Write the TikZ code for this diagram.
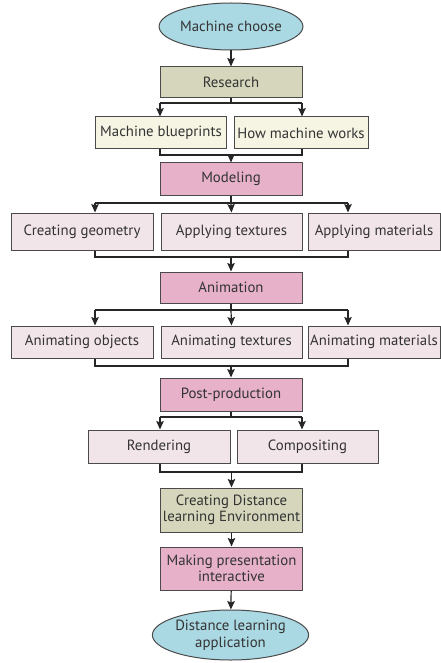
\documentclass[tikz,border=0pt]{standalone}
\usepackage{fontspec}
\setmainfont{PT Sans}
\usetikzlibrary{arrows.meta,shapes.geometric,calc}
\definecolor{ellfill}{HTML}{AAD9E3}
\definecolor{tanfill}{HTML}{D6D6BC}
\definecolor{pinkfill}{HTML}{E6B1C9}
\definecolor{lpinkfill}{HTML}{F2E5EA}
\definecolor{creamfill}{HTML}{F6F4E3}
\definecolor{edge}{HTML}{4A4A4A}
\definecolor{txt}{HTML}{333333}
\tikzset{
  base/.style={draw=edge, line width=1pt, text=txt, font=\fontsize{14.8}{16.5}\selectfont, inner sep=0pt, align=center},
  ell/.style={base, ellipse, fill=ellfill},
  tanbox/.style={base, rectangle, fill=tanfill},
  pinkbox/.style={base, rectangle, fill=pinkfill},
  lpinkbox/.style={base, rectangle, fill=lpinkfill},
  creambox/.style={base, rectangle, fill=creamfill},
  conn/.style={draw=black!85, line width=1.2pt},
  arr/.style={conn, -{Stealth[length=8.5pt,width=7.5pt,inset=1.5pt]}},
}
\begin{document}
\begin{tikzpicture}[x=1pt,y=-1pt]
\useasboundingbox (0,0) rectangle (441,663);
% nodes
\node[ell, minimum width=142, minimum height=47] (top) at (231,26.5) {Machine choose};
\node[tanbox, minimum width=142, minimum height=31] (res) at (231,82.5) {Research};
\node[creambox, minimum width=131, minimum height=32] (mb) at (161,133) {Machine blueprints};
\node[creambox, minimum width=134, minimum height=32] (hw) at (301,133) {How machine works};
\node[pinkbox, minimum width=142, minimum height=32] (mod) at (231,179) {Modeling};
\node[lpinkbox, minimum width=142, minimum height=37] (cg) at (82,231.5) {Creating geometry};
\node[lpinkbox, minimum width=141, minimum height=37] (apt) at (231.5,231.5) {Applying textures};
\node[lpinkbox, minimum width=132, minimum height=37] (apm) at (374,231.5) {Applying materials};
\node[pinkbox, minimum width=142, minimum height=31] (ani) at (231,287.5) {Animation};
\node[lpinkbox, minimum width=142, minimum height=32] (ao) at (82,342) {Animating objects};
\node[lpinkbox, minimum width=141, minimum height=32] (atx) at (231.5,342) {Animating textures};
\node[lpinkbox, minimum width=132, minimum height=32] (ama) at (374,342) {Animating materials};
\node[pinkbox, minimum width=142, minimum height=33] (pp) at (231,394.5) {Post-production};
\node[lpinkbox, minimum width=142, minimum height=33] (ren) at (159,446.5) {Rendering};
\node[lpinkbox, minimum width=141, minimum height=33] (comp) at (307.5,446.5) {Compositing};
\node[tanbox, minimum width=142, minimum height=44] (cde) at (231.5,510) {Creating Distance\\learning Environment};
\node[pinkbox, minimum width=142, minimum height=43] (mpi) at (231.5,568.5) {Making presentation\\interactive};
\node[ell, minimum width=143, minimum height=50] (bot) at (230.5,635) {Distance learning\\application};
% connectors
\draw[arr] (top) -- (res);
% research branch
\coordinate (b1) at (231,103);
\coordinate (b1l) at (160,103);
\coordinate (b1r) at (302,103);
\draw[conn] (res.south) -- (b1);
\draw[conn] (b1l) -- (b1r);
\draw[arr] (b1l) -- (b1l |- mb.north);
\draw[arr] (b1r) -- (b1r |- hw.north);
% merge to modeling
\coordinate (m1) at (231,155);
\coordinate (m1l) at (160,155);
\coordinate (m1r) at (302,155);
\draw[conn] (m1l |- mb.south) -- (m1l) -- (m1r) -- (m1r |- hw.south);
\draw[arr] (m1) -- (mod.north);
% modeling branch
\coordinate (b2) at (231,203);
\coordinate (b2l) at (95,203);
\coordinate (b2r) at (348,203);
\draw[conn] (mod.south) -- (b2);
\draw[conn] (b2l) -- (b2r);
\draw[arr] (b2l) -- (b2l |- cg.north);
\draw[arr] (b2) -- (apt.north);
\draw[arr] (b2r) -- (b2r |- apm.north);
% merge to animation
\coordinate (m2) at (231,257);
\coordinate (m2l) at (95,257);
\coordinate (m2r) at (348,257);
\draw[conn] (m2l |- cg.south) -- (m2l) -- (m2r) -- (m2r |- apm.south);
\draw[arr] (m2) -- (ani.north);
% animation branch
\coordinate (b3) at (231,310);
\coordinate (b3l) at (95,310);
\coordinate (b3r) at (348,310);
\draw[conn] (ani.south) -- (b3);
\draw[conn] (b3l) -- (b3r);
\draw[arr] (b3l) -- (b3l |- ao.north);
\draw[arr] (b3) -- (atx.north);
\draw[arr] (b3r) -- (b3r |- ama.north);
% merge to post-production
\coordinate (m3) at (231,366);
\coordinate (m3l) at (95,366);
\coordinate (m3r) at (348,366);
\draw[conn] (m3l |- ao.south) -- (m3l) -- (m3r) -- (m3r |- ama.south);
\draw[arr] (m3) -- (pp.north);
% post-production branch
\coordinate (b4) at (231,417);
\coordinate (b4l) at (160,417);
\coordinate (b4r) at (302,417);
\draw[conn] (pp.south) -- (b4);
\draw[conn] (b4l) -- (b4r);
\draw[arr] (b4l) -- (b4l |- ren.north);
\draw[arr] (b4r) -- (b4r |- comp.north);
% merge to cde
\coordinate (m4) at (231.5,472);
\coordinate (m4l) at (160,472);
\coordinate (m4r) at (302,472);
\draw[conn] (m4l |- ren.south) -- (m4l) -- (m4r) -- (m4r |- comp.south);
\draw[arr] (m4) -- (cde.north);
\draw[arr] (cde) -- (mpi);
\draw[arr] (mpi) -- (bot);
\end{tikzpicture}
\end{document}
